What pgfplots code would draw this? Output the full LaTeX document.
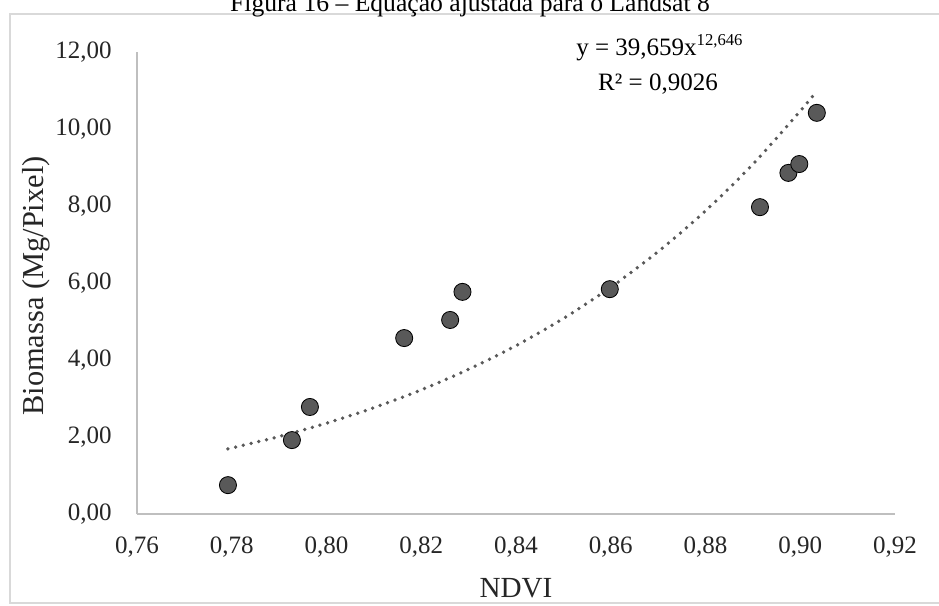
\documentclass[border=0pt]{standalone}
\usepackage{fontspec}
\setmainfont{Liberation Serif}
\usepackage{pgfplots}
\pgfplotsset{compat=1.18}
\definecolor{pts}{HTML}{595959}
\definecolor{axln}{HTML}{BFBFBF}
\definecolor{chartframe}{HTML}{D9D9D9}
\definecolor{txt}{HTML}{262626}

\begin{document}
\begin{tikzpicture}
\clip (0,0) rectangle (450.72pt,290.4pt);
\begin{scope}[x=0.48pt,y=0.48pt]
\fill[white] (0,0) rectangle (939,605);
\draw[chartframe, line width=0.7pt] (10,2) rectangle (960,591);
\node[font=\fontsize{12.3}{14}\selectfont, anchor=base, text=black] at (470,594) {Figura 16 – Equação ajustada para o Landsat 8};
\end{scope}
\begin{axis}[
    at={(65.76pt,43.68pt)}, anchor=origin,
    scale only axis,
    width=363.84pt, height=221.76pt,
    xmin=0.76, xmax=0.92, ymin=0, ymax=12,
    axis x line=bottom, axis y line=left,
    axis line style={-, axln, line width=0.8pt},
    xtick={0.76,0.78,0.80,0.82,0.84,0.86,0.88,0.90,0.92},
    ytick={0,2,4,6,8,10,12},
    major tick length=0pt,
    tick label style={font=\fontsize{12}{14}\selectfont, text=txt, inner sep=0pt},
    xticklabel style={anchor=center, yshift=-15.8pt},
    yticklabel style={anchor=east, xshift=-12pt},
    /pgf/number format/.cd, fixed, fixed zerofill, precision=2, use comma, assume math mode=true,
    /pgfplots/.cd,
    clip=false,
]
\addplot[only marks, mark=*, mark size=4.1pt, mark options={fill=pts, draw=none}] coordinates {
  (0.7792,0.75) (0.7927,1.92) (0.7965,2.78) (0.8164,4.57) (0.8261,5.04)
  (0.8287,5.77) (0.8598,5.84) (0.8915,7.97) (0.8975,8.86) (0.8998,9.09)
  (0.9035,10.42)
};
\addplot[smooth, pts, line width=1.8pt, line cap=round, dash pattern=on 0pt off 3.8pt] coordinates {
  (0.7792,1.691) (0.79,2.013) (0.80,2.359) (0.81,2.761) (0.82,3.224)
  (0.83,3.759) (0.84,4.373) (0.85,5.079) (0.86,5.889) (0.87,6.816)
  (0.88,7.875) (0.89,9.086) (0.90,10.464) (0.9033,10.960)
};
\end{axis}
\begin{scope}[x=0.48pt,y=0.48pt]
\node[font=\fontsize{12}{14}\selectfont, anchor=base, text=black] at (660,550) {y = 39,659x\textsuperscript{12,646}};
\node[font=\fontsize{12}{14}\selectfont, anchor=base, text=black] at (658,515) {R² = 0,9026};
\node[font=\fontsize{14}{16}\selectfont, text=txt] at (516,17) {NDVI};
\node[font=\fontsize{14.6}{16}\selectfont, text=txt, rotate=90] at (36,319) {Biomassa (Mg/Pixel)};
\end{scope}
\end{tikzpicture}
\end{document}
